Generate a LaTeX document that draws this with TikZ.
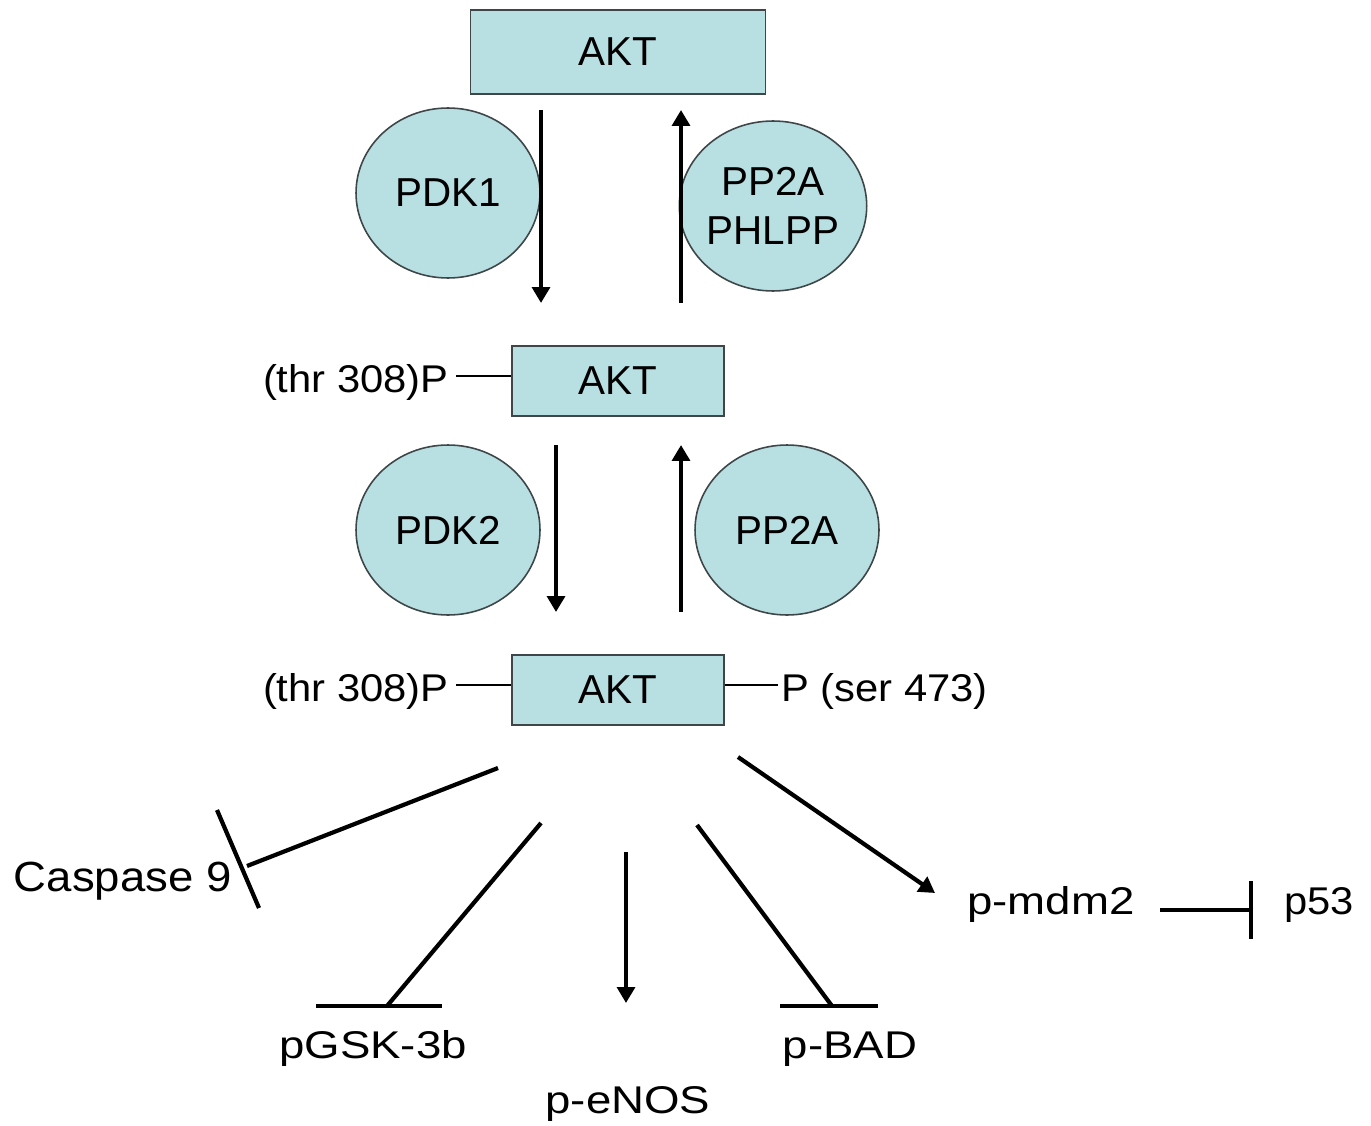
\documentclass[tikz,border=0pt]{standalone}
\usepackage{fontspec}
\setmainfont{Liberation Sans}
\newfontfamily\widefont[FakeStretch=1.18]{Liberation Sans}
\newfontfamily\sitefont[FakeStretch=1.08]{Liberation Sans}
\usetikzlibrary{arrows.meta,positioning,calc,shapes.geometric}
\definecolor{aktblue}{RGB}{184,223,226}
\definecolor{edgegrey}{RGB}{62,70,72}

\begin{document}
\begin{tikzpicture}[
    x=0.02cm, y=-0.02cm,
    font=\fontsize{23}{28}\selectfont,
    >={Triangle[width=10pt,length=9pt]},
    akt/.style={draw=edgegrey, fill=aktblue, line width=0.9pt,
                minimum width=4.24cm, minimum height=1.4cm},
    enzyme/.style={ellipse, draw=edgegrey, fill=aktblue, line width=0.9pt,
                   inner sep=0pt, align=center, minimum width=3.68cm, minimum height=3.4cm},
    lbl/.style={inner sep=0pt},
    site/.style={lbl, font=\sitefont\fontsize{22}{28}\selectfont},
    target/.style={lbl, font=\widefont\fontsize{22}{28}\selectfont},
    link/.style={line width=0.8pt},
    act/.style={->, line width=2.4pt},
    inh/.style={line width=2.4pt}
  ]
  \useasboundingbox (0,0) rectangle (1371,1125);

  % ---------- AKT states ---------------------------------------------------
  \node[akt, minimum width=5.9cm, minimum height=1.68cm] (akt0) at (618,52) {AKT};
  \node[akt] (akt1) at (618,381) {AKT};
  \node[akt] (akt2) at (618,690) {AKT};

  % ---------- kinases / phosphatases ---------------------------------------
  \node[enzyme] (pdk1)  at (448,193) {PDK1};
  \node[enzyme] (phlpp) at (773,206) {PP2A\\PHLPP};
  \node[enzyme] (pdk2)  at (448,530) {PDK2};
  \node[enzyme] (pp2a)  at (787,530) {PP2A};

  \coordinate (dn1s) at (541,110);  \coordinate (dn1e) at (541,303);
  \coordinate (up1s) at (681,303);  \coordinate (up1e) at (681,110);
  \coordinate (dn2s) at (556,445);  \coordinate (dn2e) at (556,612);
  \coordinate (up2s) at (681,612);  \coordinate (up2e) at (681,445);

  \draw[act] (dn1s) -- (dn1e);
  \draw[act] (up1s) -- (up1e);
  \draw[act] (dn2s) -- (dn2e);
  \draw[act] (up2s) -- (up2e);

  % ---------- phospho sites ------------------------------------------------
  \node[site, anchor=base east] (thr1) at (449,392) {(thr 308)P};
  \node[site, anchor=base east] (thr2) at (449,701) {(thr 308)P};
  \node[site, anchor=base west] (ser)  at (781,701) {P (ser 473)};

  \draw[link] ([xshift=4pt,yshift=3.5pt]thr1.east) -- ([yshift=3.5pt]thr1.east -| akt1.west);
  \draw[link] ([xshift=4pt,yshift=3.5pt]thr2.east) -- ([yshift=3.5pt]thr2.east -| akt2.west);
  \draw[link] ([yshift=3.5pt]ser.west -| akt2.east) -- ([xshift=-2pt,yshift=3.5pt]ser.west);

  % ---------- downstream targets -------------------------------------------
  \node[target, anchor=base east, font=\sitefont\fontsize{24}{28}\selectfont] (casp) at (232,891) {Caspase 9};
  \node[target, anchor=base]      (gsk)  at (373,1058) {pGSK-3b};
  \node[target, anchor=base]      (enos) at (628,1113) {p-eNOS};
  \node[target, anchor=base]      (bad)  at (850,1058) {p-BAD};
  \node[target, anchor=base]      (mdm2) at (1051,914) {p-mdm2};
  \node[site, anchor=base west] (p53) at (1284,914) {p53};

  \coordinate (casS) at (498,768);   \coordinate (casE) at (247,866);
  \coordinate (casT) at (217,810);   \coordinate (casB) at (259,908);
  \coordinate (gskS) at (541,823);   \coordinate (gskE) at (387,1006);
  \coordinate (gskL) at (316,1006);  \coordinate (gskR) at (442,1006);
  \coordinate (nosS) at (626,852);   \coordinate (nosE) at (626,1003);
  \coordinate (badS) at (697,825);   \coordinate (badE) at (832,1006);
  \coordinate (badL) at (780,1006);  \coordinate (badR) at (878,1006);
  \coordinate (mdmS) at (738,757);   \coordinate (mdmE) at (935,893);
  \coordinate (p53S) at (1160,910);  \coordinate (p53E) at (1253,910);

  \draw[inh] (casS) -- (casE);
  \draw[inh] (casT) -- (casB);
  \draw[inh] (gskS) -- (gskE);
  \draw[inh] (gskL) -- (gskR);
  \draw[act] (nosS) -- (nosE);
  \draw[inh] (badS) -- (badE);
  \draw[inh] (badL) -- (badR);
  \draw[act] (mdmS) -- (mdmE);
  \draw[inh, -{Bar[width=33pt]}] (p53S) -- (p53E);

\end{tikzpicture}
\end{document}
